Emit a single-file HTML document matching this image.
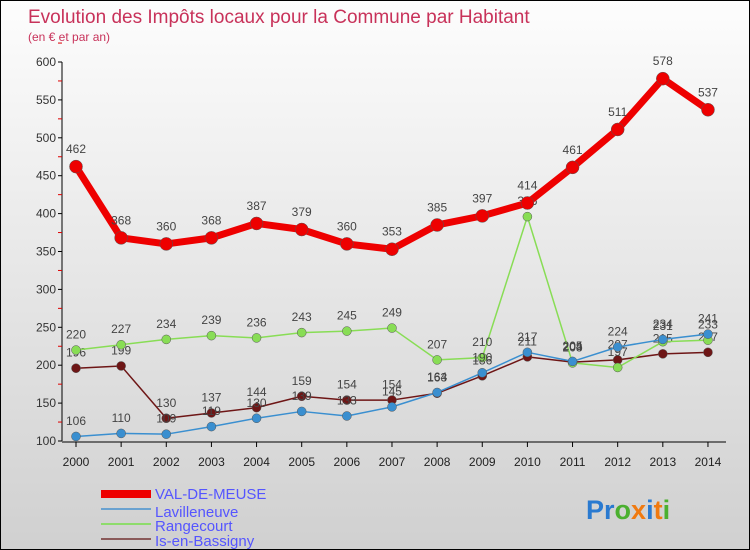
<!DOCTYPE html>
<html><head><meta charset="utf-8"><style>
body{margin:0}
#c{width:750px;height:550px;position:relative;overflow:hidden;border:1px solid #000;box-sizing:border-box;background:linear-gradient(#fdfdfd,#d0d0d0);font-family:"Liberation Sans",sans-serif}
</style></head><body>
<div id="c">
<svg id="s" width="750" height="550" style="position:absolute;left:0;top:0">
<text x="27" y="22" font-size="19" fill="#c8325a">Evolution des Impôts locaux pour la Commune par Habitant</text>
<text x="27" y="40" font-size="12" fill="#c8325a">(en € et par an)</text>
<g id="axes"></g><g id="series"></g>
<g>
<rect x="100" y="489" width="50" height="8" fill="#e00"/>
<text x="154" y="498" font-size="15" fill="#55f">VAL-DE-MEUSE</text>
<rect x="100" y="507" width="50" height="2" fill="#6aa2d0"/>
<text x="154" y="516" font-size="15" fill="#55f">Lavilleneuve</text>
<rect x="100" y="522" width="50" height="2" fill="#8edc6c"/>
<text x="154" y="530" font-size="15" fill="#55f">Rangecourt</text>
<rect x="100" y="537" width="50" height="2" fill="#8a5a5a"/>
<text x="154" y="545" font-size="15" fill="#55f">Is-en-Bassigny</text>
</g>
<text x="585" y="518" font-size="27" font-weight="bold"><tspan fill="#2a7ad0">Pr</tspan><tspan fill="#4bb030">o</tspan><tspan fill="#f07a10">x</tspan><tspan fill="#2a7ad0">i</tspan><tspan fill="#f07a10">t</tspan><tspan fill="#4bb030">i</tspan></text>
</svg></div>
<script>
const years=[2000,2001,2002,2003,2004,2005,2006,2007,2008,2009,2010,2011,2012,2013,2014];
const yTicks=[100,150,200,250,300,350,400,450,500,550,600];
const valDeMeuse=[462,368,360,368,387,379,360,353,385,397,414,461,511,578,537];
const lavilleneuve=[106,110,109,119,130,139,133,145,164,190,217,205,224,234,241];
const rangecourt=[220,227,234,239,236,243,245,249,207,210,396,203,197,231,233];
const isEnBassigny=[196,199,130,137,144,159,154,154,163,186,211,204,207,215,217];
const NS="http://www.w3.org/2000/svg";
const X=i=>75+i*45.14, Y=v=>440-(v-100)*0.758;
function mk(t,a,p){const e=document.createElementNS(NS,t);for(const k in a)e.setAttribute(k,a[k]);p.appendChild(e);return e;}
const ax=document.getElementById('axes');
const yl=mk('line',{x1:61,y1:Y(600),x2:61,y2:Y(100),stroke:'#000'},ax);


const xl=mk('line',{x1:61,y1:Y(100)+1,x2:725,y2:Y(100)+1,stroke:'#000'},ax);


yTicks.forEach(v=>{
  mk('line',{x1:57,y1:Y(v),x2:61,y2:Y(v),stroke:'#000'},ax);
  mk('line',{x1:57,y1:Y(v+25),x2:61,y2:Y(v+25),stroke:'#d00'},ax);
  const t=mk('text',{x:55,y:Y(v)+4,'font-size':12,fill:'#333','text-anchor':'end'},ax);t.textContent=v;
  
  
});
years.forEach((y,i)=>{
  mk('line',{x1:X(i),y1:Y(100)+1,x2:X(i),y2:Y(100)+6,stroke:'#000'},ax);
  const t=mk('text',{x:X(i),y:465,'font-size':12,fill:'#222','text-anchor':'middle'},ax);t.textContent=y;
  
  
});
const sg=document.getElementById('series');
function draw(data,color,w,r,name){
  const g=mk('g',{},sg);
  
  
  mk('polyline',{points:data.map((v,i)=>X(i)+','+Y(v)).join(' '),fill:'none',stroke:color,'stroke-width':w,'stroke-linejoin':'round'},g);
  data.forEach((v,i)=>{
    const c=mk('circle',{cx:X(i),cy:Y(v),r:r,fill:color,stroke:'#555','stroke-width':0.5},g);
    
    
    const t=mk('text',{x:X(i),y:Y(v)-r-7,'font-size':12,fill:'#444','text-anchor':'middle'},g);t.textContent=v;
    
    
  });
}
draw(isEnBassigny,'#6e1616',1.5,4.5,'is-en-bassigny-series');
draw(rangecourt,'#88dd55',1.5,4.5,'rangecourt-series');
draw(lavilleneuve,'#3a8fd0',1.5,4.5,'lavilleneuve-series');
draw(valDeMeuse,'#ee0000',7,6.5,'val-de-meuse-series');
</script>
</body></html>
